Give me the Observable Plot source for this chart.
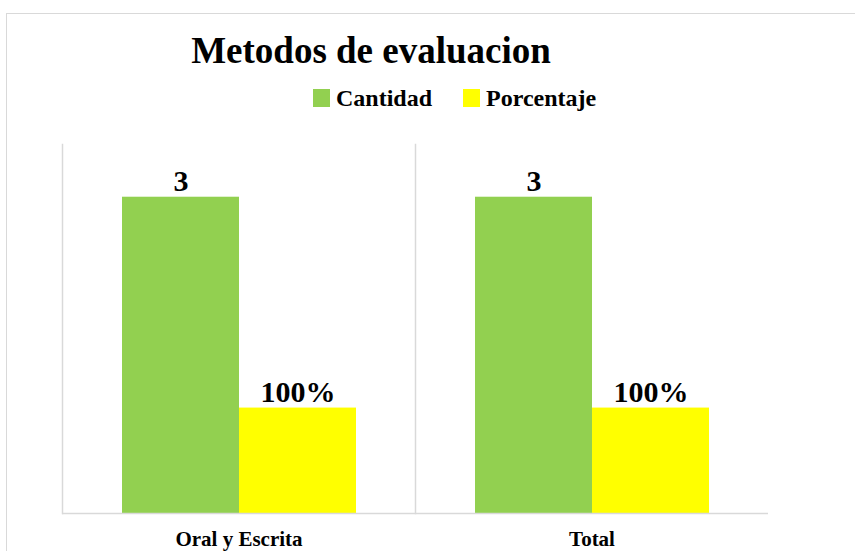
<!DOCTYPE html>
<html>
<head>
<meta charset="utf-8">
<script src="https://cdn.jsdelivr.net/npm/d3@7"></script>
<script src="https://cdn.jsdelivr.net/npm/@observablehq/plot@0.6"></script>
<style>
  html, body { margin: 0; padding: 0; background: #fff; }
  #wrap { position: relative; width: 855px; height: 551px; overflow: hidden; background: #fff;
          font-family: "Liberation Serif", "Times New Roman", serif; font-weight: bold; color: #000; }
  #border { position: absolute; left: 6px; top: 13px; width: 900px; height: 600px;
            border-top: 1px solid #d9d9d9; border-left: 1px solid #d9d9d9; }
  #title { position: absolute; left: 0; width: 742px; top: 32px; text-align: center;
           font-size: 37px; line-height: 1; white-space: nowrap; }
  #legend { position: absolute; left: 313px; top: 86px; display: flex; align-items: center;
            font-size: 24px; line-height: 1; white-space: nowrap; }
  .item { display: flex; align-items: center; margin-right: 31px; }
  .sw { width: 17px; height: 18px; margin-right: 6px; }
  #chart { position: absolute; left: 0; top: 120px; }
</style>
</head>
<body>
<div id="wrap">
  <div id="border"></div>
  <div id="title"></div>
  <div id="legend"></div>
  <div id="chart"></div>
</div>
<script>
const titleText = "Metodos de evaluacion";
const categories = ["Oral y Escrita", "Total"];
const series = ["Cantidad", "Porcentaje"];
const cantidad = [3, 3];
const porcentaje = [1, 1]; // 100%
const colors = ["#92D050", "#FFFF00"];

const data = categories.flatMap((c, i) => [
  {cat: c, serie: series[0], value: cantidad[i], label: String(cantidad[i])},
  {cat: c, serie: series[1], value: porcentaje[i], label: Math.round(porcentaje[i] * 100) + "%"}
]);

document.getElementById("title").textContent = titleText;
const legend = document.getElementById("legend");
series.forEach((s, i) => {
  const it = document.createElement("div");
  it.className = "item";
  const sw = document.createElement("div");
  sw.className = "sw";
  sw.style.background = colors[i];
  const tx = document.createElement("span");
  tx.textContent = s;
  it.appendChild(sw);
  it.appendChild(tx);
  legend.appendChild(it);
});

const chart = Plot.plot({
  width: 855,
  height: 431,
  marginTop: 24,
  marginBottom: 38,
  marginLeft: 62,
  marginRight: 87,
  style: {fontFamily: "Liberation Serif, Times New Roman, serif", fontWeight: "bold", fontSize: "21px", color: "#000", background: "transparent"},
  fx: {domain: categories, padding: 0, axis: "bottom", label: null, tickSize: 0, tickPadding: 18},
  x: {domain: series, paddingInner: 0, paddingOuter: 0.5, axis: null},
  y: {domain: [0, 3.5], axis: null},
  color: {domain: series, range: colors},
  marks: [
    Plot.frame({anchor: "left", stroke: "#d9d9d9", strokeWidth: 1.5}),
    Plot.barY(data, {fx: "cat", x: "serie", y: "value", fill: "serie"}),
    Plot.ruleY([0], {stroke: "#d9d9d9", strokeWidth: 1.5}),
    Plot.text(data, {fx: "cat", x: "serie", y: "value", text: "label", lineAnchor: "bottom", dy: -6, fontSize: 30, fontWeight: "bold", fill: "#000"})
  ]
});
document.getElementById("chart").appendChild(chart);
</script>
</body>
</html>
